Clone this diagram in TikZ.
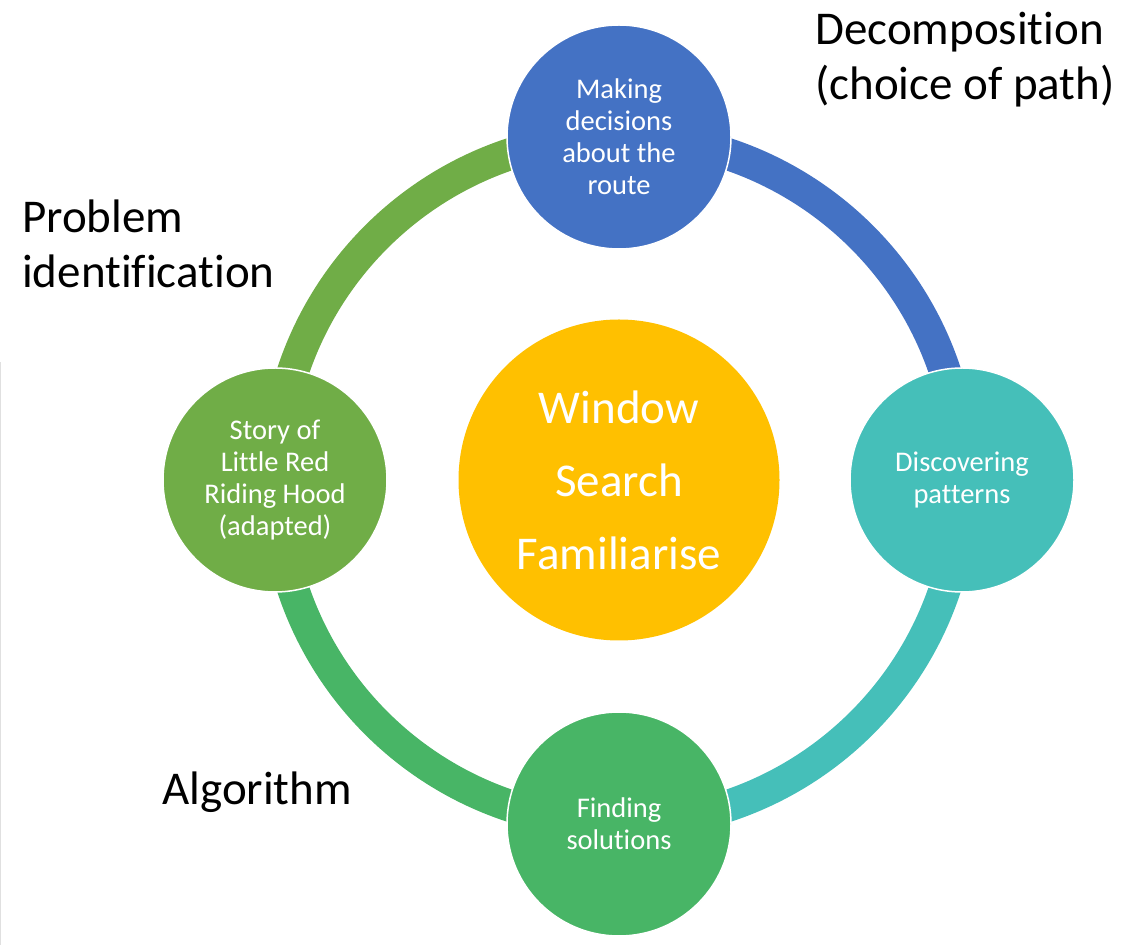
\documentclass[tikz,border=0pt]{standalone}
\usepackage{fontspec}
\setmainfont{Carlito}[Ligatures=NoCommon]
\definecolor{routeblue}{HTML}{4472C4}
\definecolor{patternteal}{HTML}{45BFB9}
\definecolor{solutiongreen}{HTML}{48B566}
\definecolor{storygreen}{HTML}{70AD47}
\definecolor{hubgold}{HTML}{FFC000}

\begin{document}
\begin{tikzpicture}[x=1pt,y=1pt,
    stage/.style={circle,minimum size=224pt,inner sep=0pt,draw=white,line width=1.5pt,
      text=white,align=center,font=\fontsize{28.5}{32}\selectfont},
    band/.style={line width=32pt},
    note/.style={anchor=base west,align=left,inner sep=0pt,font=\fontsize{47}{55}\selectfont}]
        % canvas
        \useasboundingbox (0,0) rectangle (1140,945);
        \draw[black!12,line width=1pt] (0.5,583) -- (0.5,0);
        % draw the ring, one quarter per stage
        \coordinate (ring) at (619,465);
        \draw[band,routeblue] (ring) ++(90:343.5pt) arc (90:0:343.5pt);
        \draw[band,patternteal] (ring) ++(0:343.5pt) arc (0:-90:343.5pt);
        \draw[band,solutiongreen] (ring) ++(270:343.5pt) arc (270:180:343.5pt);
        \draw[band,storygreen] (ring) ++(180:343.5pt) arc (180:90:343.5pt);
        % draw stages
        \node[stage,fill=routeblue] (route) at (619,808) {Making\\decisions\\about the\\route};
        \node[stage,fill=patternteal] (patterns) at (962,465) {Discovering\\patterns};
        \node[stage,fill=solutiongreen] (solutions) at (619,121) {Finding\\solutions};
        \node[stage,fill=storygreen] (story) at (275,465) {Story of\\Little Red\\Riding Hood\\(adapted)};
        % hub
        \node[circle,minimum size=321pt,inner sep=0pt,fill=hubgold,text=white,align=center,
          font=\fontsize{47}{73}\selectfont] (hub) at (ring) {Window\\Search\\Familiarise};
        % labels (base is the last line)
        \node[note] (decomp) at (815,845) {Decomposition\\(choice of path)};
        \node[note] (problem) at (22,657) {Problem\\identification};
        \node[note] (algo) at (162,140) {Algorithm};
\end{tikzpicture}
\end{document}
